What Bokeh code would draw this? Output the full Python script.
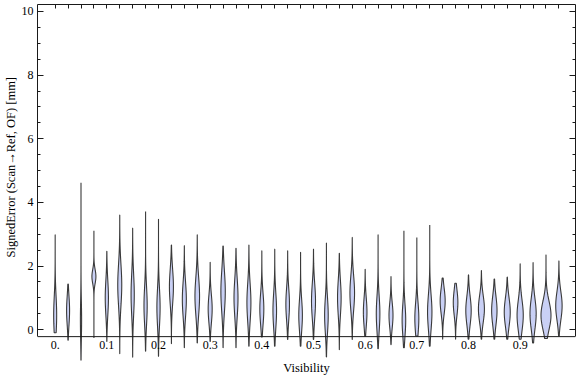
import numpy as np
from bokeh.plotting import figure
from bokeh.models import (LinearAxis, FixedTicker, SingleIntervalTicker, Span,
                          ColumnDataSource, Range1d, Title, CustomJSTickFormatter)
from bokeh.embed import file_html
from bokeh.resources import INLINE
from bokeh.core.properties import value

# ---------------- data ----------------
visibility = [0.0, 0.025, 0.05, 0.075, 0.1, 0.125, 0.15, 0.175, 0.2, 0.225,
              0.25, 0.275, 0.3, 0.325, 0.35, 0.375, 0.4, 0.425, 0.45, 0.475,
              0.5, 0.525, 0.55, 0.575, 0.6, 0.625, 0.65, 0.675, 0.7, 0.725,
              0.75, 0.775, 0.8, 0.825, 0.85, 0.875, 0.9, 0.925, 0.95, 0.975]
err_min = [-0.10, -0.33, -1.01, -0.26, -0.37, -0.76, -0.87, -0.68, -0.84, -0.44,
           -0.57, -0.42, -0.37, -0.57, -0.57, -0.52, -0.23, -0.52, -0.31, -0.52,
           -0.31, -0.86, -0.63, -0.31, -0.21, -0.60, -0.47, -0.57, -0.20, -0.52,
           -0.30, -0.30, -0.30, -0.30, -0.30, -0.30, -0.30, -0.42, -0.28, -0.20]
err_max = [2.98, 1.43, 4.62, 3.11, 2.46, 3.60, 3.19, 3.71, 3.47, 2.66,
           2.64, 2.98, 2.12, 2.63, 2.56, 2.66, 2.48, 2.53, 2.48, 2.43,
           2.53, 2.72, 2.40, 2.90, 1.90, 2.98, 1.67, 3.11, 2.90, 3.29,
           1.62, 1.46, 1.72, 1.86, 1.59, 1.65, 2.07, 2.11, 2.35, 2.16]
err_mode = [0.45, 0.60, 0.30, 1.67, 1.00, 1.40, 1.10, 0.75, 0.70, 1.35,
            0.95, 1.05, 0.65, 1.20, 1.00, 0.85, 0.65, 0.60, 0.80, 0.45,
            0.90, 0.45, 1.00, 1.15, 0.55, 0.50, 0.45, 0.30, 0.35, 0.55,
            0.90, 0.85, 0.60, 0.65, 0.60, 0.55, 0.45, 0.50, 0.45, 0.75]
err_spread = [0.60, 0.45, 0.60, 0.22, 0.55, 0.65, 0.65, 0.60, 0.60, 0.55,
              0.55, 0.60, 0.45, 0.65, 0.60, 0.60, 0.50, 0.55, 0.50, 0.50,
              0.55, 0.55, 0.55, 0.55, 0.45, 0.55, 0.40, 0.50, 0.50, 0.55,
              0.40, 0.40, 0.45, 0.42, 0.45, 0.45, 0.48, 0.48, 0.45, 0.45]
# relative peak density (drawn half-width in pixels)
peak_density = [1.5, 1.5, 0.6, 2.0, 1.6, 2.0, 1.6, 1.6, 1.6, 2.0,
                2.0, 2.3, 2.0, 2.2, 2.0, 2.0, 2.0, 1.8, 1.8, 1.8,
                2.0, 1.8, 1.8, 2.3, 1.8, 1.8, 2.0, 1.8, 2.0, 2.2,
                2.5, 2.3, 2.7, 3.0, 2.7, 3.0, 3.1, 3.1, 5.0, 3.2]

xtick_values = [0.0, 0.1, 0.2, 0.3, 0.4, 0.5, 0.6, 0.7, 0.8, 0.9]
xtick_labels = ["0.", "0.1", "0.2", "0.3", "0.4", "0.5", "0.6", "0.7", "0.8", "0.9"]

# ---------------- layout ----------------
X0, X1 = -0.0342, 1.0071
Y0, Y1 = -0.97, 10.22
AXIS_Y = -0.22
FRAME_W = 539
FONT = "Liberation Serif"
FILL = "#c9d0f5"
EDGE = "#3a3a3a"
FRAME = "#1a1a1a"

px_to_x = (X1 - X0) / FRAME_W

xs_list, ys_list = [], []
for xv, lo, hi, m, s, w in zip(visibility, err_min, err_max, err_mode, err_spread, peak_density):
    ys = np.linspace(lo, hi, 240)
    hw = w * np.exp(-0.5 * ((ys - m) / s) ** 2) * px_to_x
    xs_list.append(np.concatenate([xv - hw, (xv + hw)[::-1]]).tolist())
    ys_list.append(np.concatenate([ys, ys[::-1]]).tolist())

src = ColumnDataSource(dict(xs=xs_list, ys=ys_list))

p = figure(width=576, height=377, x_range=Range1d(X0, X1), y_range=Range1d(Y0, Y1),
           output_backend="svg", toolbar_location=None,
           min_border_left=36, min_border_right=1, min_border_top=4, min_border_bottom=16)
p.outline_line_color = None
p.xgrid.visible = False
p.ygrid.visible = False
p.background_fill_color = "white"
p.border_fill_color = "white"

p.patches("xs", "ys", source=src, fill_color=FILL, line_color=EDGE, line_width=1.1)

# bottom frame line
p.add_layout(Span(location=AXIS_Y, dimension="width", line_color=FRAME, line_width=1))

# x tick labels under the bottom frame line
p.text(x=xtick_values, y=[AXIS_Y] * len(xtick_values), text=xtick_labels,
       text_align="center", text_baseline="top", y_offset=4,
       text_font=value(FONT), text_font_size="12px", text_color="black")

# bottom axis: only the title
xa = p.xaxis[0]
xa.ticker = FixedTicker(ticks=[])
xa.axis_line_color = None
xa.major_tick_out = 0
xa.major_tick_in = 0
xa.minor_tick_out = 0
xa.minor_tick_in = 0
xa.major_label_standoff = 0
xa.axis_label = "Visibility"
xa.axis_label_standoff = 0
xa.axis_label_text_font = FONT
xa.axis_label_text_font_size = "12.5px"
xa.axis_label_text_font_style = "normal"
xa.axis_label_text_color = "black"

# left axis
ya = p.yaxis[0]
ya.ticker = SingleIntervalTicker(interval=2, num_minor_ticks=4)
ya.bounds = (AXIS_Y, Y1)
ya.axis_line_color = FRAME
ya.major_tick_line_color = FRAME
ya.minor_tick_line_color = FRAME
ya.major_tick_in = 6
ya.major_tick_out = 0
ya.minor_tick_in = 3
ya.minor_tick_out = 0
ya.major_label_standoff = 4
ya.major_label_text_font = FONT
ya.major_label_text_font_size = "12px"
ya.major_label_text_color = "black"

# y-axis title, placed along the drawn frame (which is shorter than the plot area)
p.add_layout(Title(text="SignedError (Scan\u2192Ref, OF) [mm]", align="left",
                   offset=103, standoff=2, text_font=FONT, text_font_size="12.5px",
                   text_font_style="normal", text_color="black"), "left")

# right axis (ticks only)
ra = LinearAxis(ticker=SingleIntervalTicker(interval=2, num_minor_ticks=4),
                bounds=(AXIS_Y, Y1), axis_line_color=FRAME,
                major_tick_line_color=FRAME, minor_tick_line_color=FRAME,
                major_tick_in=6, major_tick_out=0, minor_tick_in=3, minor_tick_out=0,
                formatter=CustomJSTickFormatter(code="return ''"),
                major_label_standoff=0, major_label_text_font_size="1px")
p.add_layout(ra, "right")

# top axis (ticks at each category)
ta = LinearAxis(ticker=FixedTicker(ticks=visibility), axis_line_color=FRAME,
                major_tick_line_color=FRAME, major_tick_in=4, major_tick_out=0,
                minor_tick_in=0, minor_tick_out=0,
                formatter=CustomJSTickFormatter(code="return ''"),
                major_label_standoff=0, major_label_text_font_size="1px")
p.add_layout(ta, "above")

open("out.html", "w").write(file_html(p, INLINE))
